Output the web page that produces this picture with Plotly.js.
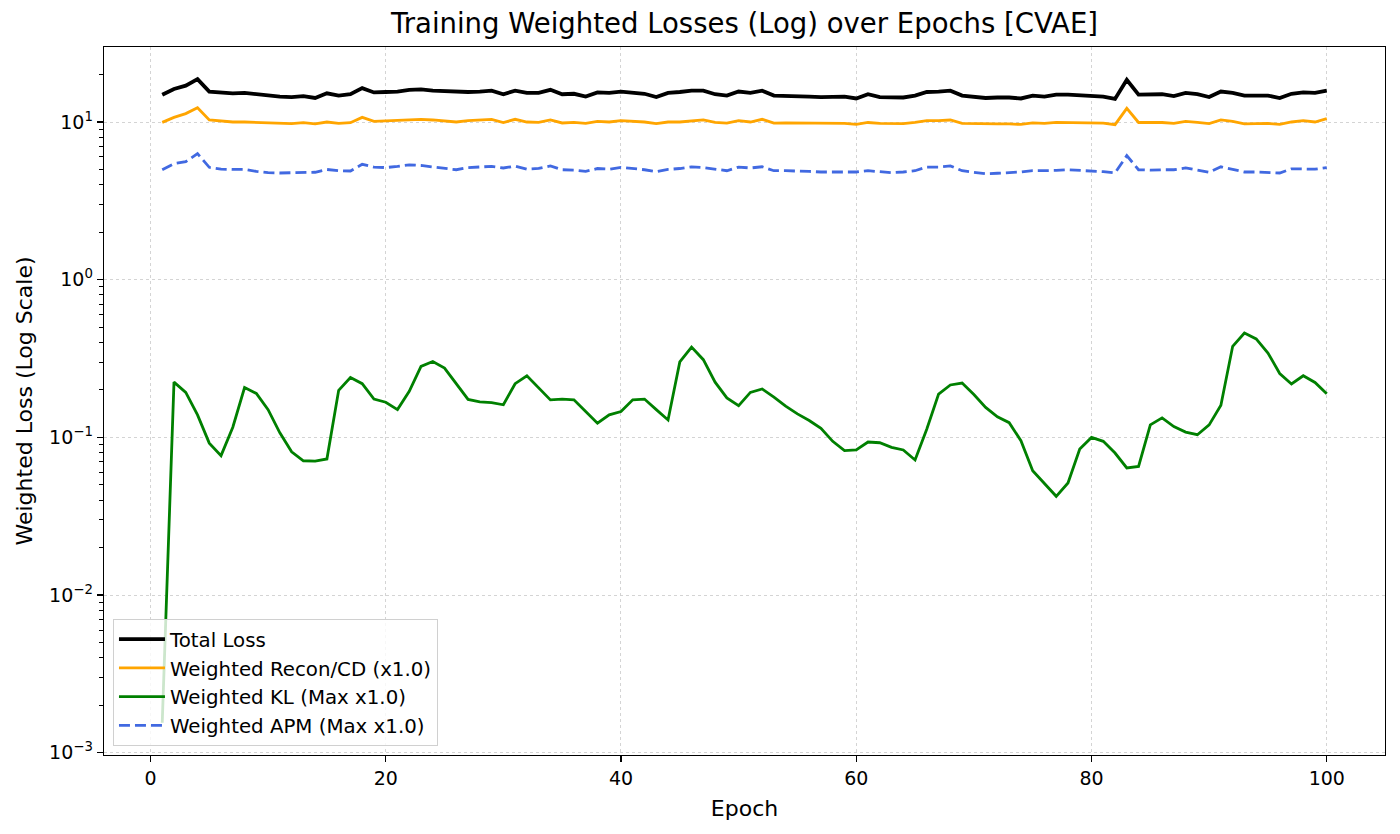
<!DOCTYPE html>
<html>
<head>
<meta charset="utf-8">
<script src="https://cdn.plot.ly/plotly-3.0.1.min.js"></script>
<style>
html,body{margin:0;padding:0;background:#fff;}
#chart{width:1400px;height:834px;}
</style>
</head>
<body>
<div id="chart"></div>
<script>
const epochs = [1,2,3,4,5,6,7,8,9,10,11,12,13,14,15,16,17,18,19,20,
21,22,23,24,25,26,27,28,29,30,31,32,33,34,35,36,37,38,39,40,
41,42,43,44,45,46,47,48,49,50,51,52,53,54,55,56,57,58,59,60,
61,62,63,64,65,66,67,68,69,70,71,72,73,74,75,76,77,78,79,80,
81,82,83,84,85,86,87,88,89,90,91,92,93,94,95,96,97,98,99,100];

const totalLoss = [14.9,16.2,17.0,18.7,15.6,15.3,15.2,15.3,15.0,14.7,
14.5,14.4,14.6,14.2,15.2,14.7,15.0,16.4,15.4,15.5,
15.6,16.0,16.1,15.8,15.7,15.4,15.5,15.6,15.8,15.0,
15.8,15.3,15.3,16.0,15.0,15.1,14.5,15.4,15.3,15.6,
15.4,15.1,14.4,15.3,15.5,15.8,15.8,15.0,14.7,15.6,
15.3,15.8,14.7,14.7,14.7,14.5,14.4,14.5,14.5,14.1,
15.0,14.4,14.3,14.3,14.7,15.5,15.6,15.8,14.7,14.5,
14.2,14.3,14.3,14.1,14.7,14.5,14.9,14.9,14.8,14.5,
14.5,14.0,18.5,14.9,14.9,15.0,14.6,15.3,15.0,14.4,
15.6,15.3,14.7,14.7,14.7,14.2,15.1,15.4,15.3,15.8];

const reconLoss = [9.95,10.7,11.3,12.3,10.3,10.1,10.0,10.0,9.93,9.83,
9.79,9.76,9.90,9.72,10.0,9.81,9.90,10.7,10.1,10.2,
10.3,10.4,10.4,10.3,10.2,10.0,10.2,10.3,10.4,9.93,
10.4,10.0,9.94,10.3,9.86,9.95,9.79,10.1,10.0,10.2,
10.1,10.0,9.76,10.0,10.0,10.2,10.3,9.93,9.83,10.2,
10.0,10.4,9.83,9.86,9.86,9.81,9.76,9.79,9.81,9.67,
9.93,9.81,9.76,9.76,9.93,10.2,10.2,10.3,9.81,9.76,
9.69,9.72,9.72,9.65,9.86,9.81,9.95,9.93,9.88,9.81,
9.83,9.62,12.2,9.93,9.93,9.93,9.81,10.1,9.93,9.76,
10.3,10.1,9.74,9.79,9.79,9.65,10.0,10.2,10.0,10.5];

const klLoss = [0.00155,0.224,0.193,0.139,0.092,0.0766,0.116,0.207,0.190,0.150,
0.107,0.081,0.0711,0.0707,0.0730,0.199,0.240,0.219,0.175,0.167,
0.150,0.196,0.282,0.303,0.275,0.219,0.174,0.168,0.166,0.161,
0.219,0.246,0.206,0.173,0.175,0.173,0.146,0.123,0.139,0.146,
0.173,0.175,0.150,0.129,0.301,0.374,0.311,0.224,0.178,0.159,
0.193,0.203,0.180,0.158,0.141,0.128,0.114,0.0944,0.0824,0.0832,
0.0935,0.0925,0.0865,0.0832,0.0719,0.113,0.188,0.215,0.221,0.187,
0.155,0.135,0.124,0.0953,0.0615,0.0514,0.0423,0.0514,0.0843,0.100,
0.0944,0.0796,0.0640,0.0655,0.120,0.133,0.117,0.108,0.104,0.120,
0.160,0.378,0.459,0.421,0.343,0.254,0.218,0.246,0.223,0.189];

const apmLoss = [4.98,5.44,5.60,6.30,5.16,5.02,5.00,5.00,4.86,4.77,
4.75,4.75,4.75,4.80,5.00,4.91,4.89,5.39,5.18,5.14,
5.23,5.35,5.30,5.18,5.11,4.98,5.14,5.18,5.23,5.11,
5.25,5.02,5.08,5.27,4.98,4.95,4.86,5.07,5.02,5.16,
5.07,4.98,4.84,5.00,5.07,5.20,5.14,5.02,4.91,5.18,
5.11,5.20,4.91,4.91,4.91,4.86,4.82,4.82,4.84,4.82,
4.91,4.82,4.77,4.82,4.91,5.18,5.18,5.27,4.91,4.80,
4.70,4.73,4.75,4.82,4.91,4.91,4.93,4.98,4.93,4.91,
4.84,4.75,6.12,4.98,4.95,4.98,4.98,5.11,4.93,4.80,
5.20,4.98,4.82,4.82,4.80,4.75,5.05,5.02,5.02,5.14];

const seriesNames = ['Total Loss','Weighted Recon/CD (x1.0)','Weighted KL (Max x1.0)','Weighted APM (Max x1.0)'];
const xTickVals = [0,20,40,60,80,100];
const yTickVals = [0.001,0.01,0.1,1,10];
const yTickText = ['10<sup>\u22123</sup>','10<sup>\u22122</sup>','10<sup>\u22121</sup>','10<sup>0</sup>','10<sup>1</sup>'];

// minor log ticks (2..9 per decade)
const yMinor = [];
for (let d = -3; d <= 1; d++) {
  for (let m = 2; m <= 9; m++) yMinor.push(m * Math.pow(10, d));
}

const FONT = 'DejaVu Sans, Liberation Sans, sans-serif';

const traces = [
  {x: epochs, y: totalLoss, name: seriesNames[0], mode: 'lines', legendgroup: 'a',
   line: {color: '#000000', width: 3.8}},
  {x: epochs, y: reconLoss, name: seriesNames[1], mode: 'lines', legendgroup: 'b',
   line: {color: '#FFA500', width: 2.8}},
  {x: epochs, y: klLoss, name: seriesNames[2], mode: 'lines', legendgroup: 'c',
   line: {color: '#008000', width: 2.8}},
  {x: epochs, y: apmLoss, name: seriesNames[3], mode: 'lines', legendgroup: 'd',
   line: {color: '#4169E1', width: 2.8, dash: '11px,5px'}}
];

const layout = {
  width: 1400, height: 834,
  paper_bgcolor: '#ffffff', plot_bgcolor: '#ffffff',
  margin: {l: 104, r: 15, t: 47, b: 79, pad: 0},
  font: {family: FONT, color: '#000000', size: 19},
  title: {text: 'Training Weighted Losses (Log) over Epochs [CVAE]',
          font: {family: FONT, size: 27.5, color: '#000'},
          x: 0.5, xref: 'paper', xanchor: 'center',
          y: 0.972, yref: 'container', yanchor: 'middle'},
  showlegend: true,
  legend: {x: 0.007, y: 0.013, xanchor: 'left', yanchor: 'bottom',
           bgcolor: 'rgba(255,255,255,0.8)', bordercolor: '#d0d0d0', borderwidth: 1,
           font: {family: FONT, size: 19.8, color: '#000'},
           traceorder: 'grouped', tracegroupgap: 0, itemwidth: 46},
  xaxis: {
    range: [-3.95, 104.95], tickmode: 'array', tickvals: xTickVals,
    ticks: 'outside', ticklen: 6, tickwidth: 1.3, tickcolor: '#000',
    showline: true, linecolor: '#000', linewidth: 1.3, mirror: true,
    showgrid: true, gridcolor: '#cfcfcf', griddash: 'dot', gridwidth: 0.9,
    zeroline: false,
    tickfont: {family: FONT, size: 19, color: '#000'},
    title: {text: 'Epoch', font: {family: FONT, size: 22, color: '#000'}, standoff: 12},
    automargin: false
  },
  yaxis: {
    type: 'log', range: [-3.014, 1.4756],
    tickmode: 'array', tickvals: yTickVals, ticktext: yTickText,
    ticks: 'outside', ticklen: 6, tickwidth: 1.3, tickcolor: '#000',
    showline: true, linecolor: '#000', linewidth: 1.3, mirror: true,
    showgrid: true, gridcolor: '#cfcfcf', griddash: 'dot', gridwidth: 0.9,
    zeroline: false,
    minor: {tickmode: 'array', tickvals: yMinor, ticks: 'outside', ticklen: 3.5,
            tickwidth: 1, tickcolor: '#000', showgrid: false},
    tickfont: {family: FONT, size: 19, color: '#000'},
    title: {text: 'Weighted Loss (Log Scale)', font: {family: FONT, size: 22, color: '#000'}, standoff: 10},
    automargin: false
  }
};

Plotly.newPlot('chart', traces, layout, {displayModeBar: false, staticPlot: true});
</script>
</body>
</html>
